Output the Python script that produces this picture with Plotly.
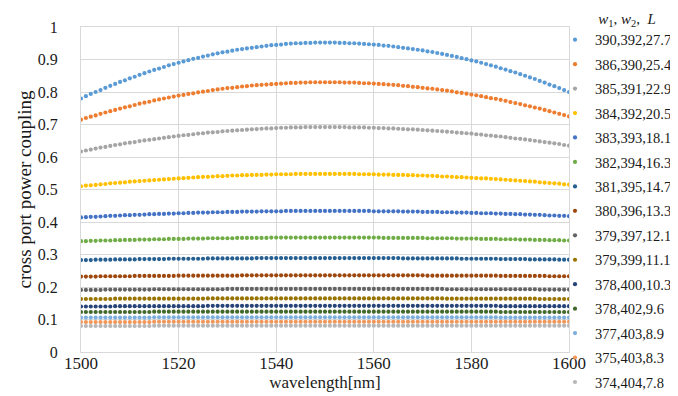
import plotly.graph_objects as go

wavelength = list(range(1500, 1601))

labels = ["390,392,27.7", "386,390,25.4", "385,391,22.9", "384,392,20.5",
          "383,393,18.1", "382,394,16.3", "381,395,14.7", "380,396,13.3",
          "379,397,12.1", "379,399,11.1", "378,400,10.3", "378,402,9.6",
          "377,403,8.9", "375,403,8.3", "374,404,7.8"]

colors = ["#5B9BD5", "#ED7D31", "#A5A5A5", "#FFC000", "#4472C4", "#70AD47",
          "#255E91", "#9E480E", "#636363", "#997300", "#264478", "#43682B",
          "#7CAFDD", "#F1975A", "#B7B7B7"]

s1 = [.780,.787,.794,.800,.806,.813,.819,.825,.831,.836,.842,.847,.853,.858,.863,.868,.872,.877,.882,.886,
      .890,.894,.898,.902,.905,.909,.912,.916,.919,.922,.924,.927,.930,.932,.934,.936,.938,.940,.942,.944,
      .945,.946,.948,.949,.950,.950,.951,.951,.952,.952,.952,
      .952,.952,.951,.951,.950,.950,.949,.948,.947,.946,.945,.943,.942,.940,.938,.936,.934,.932,.930,.928,
      .925,.923,.920,.917,.914,.911,.908,.904,.901,.897,.894,.890,.886,.882,.878,.873,.869,.864,.860,.855,
      .850,.845,.840,.834,.829,.823,.818,.812,.806,.800]
s2 = [.715,.720,.724,.728,.733,.737,.741,.745,.749,.753,.756,.760,.764,.767,.770,.774,.777,.780,.783,.786,
      .789,.791,.794,.796,.799,.801,.803,.806,.808,.810,.812,.813,.815,.817,.818,.820,.821,.822,.823,.824,
      .825,.826,.827,.828,.828,.829,.829,.830,.830,.830,.830,
      .830,.830,.830,.829,.829,.829,.828,.827,.827,.826,.825,.824,.823,.822,.821,.819,.818,.816,.815,.813,
      .811,.810,.808,.806,.804,.802,.799,.797,.795,.792,.790,.787,.784,.781,.779,.776,.773,.769,.766,.763,
      .759,.756,.752,.749,.745,.741,.737,.733,.729,.725]
s3 = [.617,.620,.623,.626,.629,.631,.634,.637,.639,.642,.644,.646,.649,.651,.653,.655,.657,.659,.661,.663,
      .665,.667,.668,.670,.672,.673,.675,.676,.677,.679,.680,.681,.682,.683,.684,.685,.686,.687,.688,.688,
      .689,.690,.690,.691,.691,.691,.692,.692,.692,.692,.692,
      .692,.692,.692,.692,.691,.691,.691,.691,.690,.690,.689,.689,.688,.688,.687,.686,.685,.685,.684,.683,
      .682,.681,.680,.679,.678,.677,.675,.674,.673,.672,.670,.669,.667,.666,.664,.663,.661,.659,.657,.656,
      .654,.652,.650,.648,.646,.644,.642,.640,.637,.635]
s4 = [.510,.512,.513,.514,.516,.517,.519,.520,.521,.522,.524,.525,.526,.527,.528,.529,.530,.531,.532,.533,
      .534,.535,.536,.537,.538,.539,.539,.540,.541,.541,.542,.543,.543,.544,.544,.545,.545,.545,.546,.546,
      .547,.547,.547,.547,.548,.548,.548,.548,.548,.548,.548,
      .548,.548,.548,.548,.548,.548,.547,.547,.547,.547,.546,.546,.546,.545,.545,.545,.544,.544,.543,.543,
      .542,.542,.541,.540,.540,.539,.538,.538,.537,.536,.535,.534,.534,.533,.532,.531,.530,.529,.528,.527,
      .526,.525,.524,.522,.521,.520,.519,.518,.516,.515]
s5 = [.414,.415,.416,.416,.417,.418,.419,.419,.420,.421,.421,.422,.422,.423,.424,.424,.425,.425,.426,.426,
      .427,.427,.428,.428,.429,.429,.429,.430,.430,.430,.431,.431,.431,.432,.432,.432,.432,.433,.433,.433,
      .433,.433,.434,.434,.434,.434,.434,.434,.434,.434,.434,
      .434,.434,.434,.434,.434,.434,.434,.434,.434,.433,.433,.433,.433,.433,.433,.432,.432,.432,.432,.431,
      .431,.431,.431,.430,.430,.430,.429,.429,.429,.428,.428,.427,.427,.427,.426,.426,.425,.425,.424,.424,
      .423,.423,.422,.422,.421,.420,.420,.419,.419,.418]
s6 = [.341,.341,.342,.342,.343,.343,.343,.344,.344,.345,.345,.345,.346,.346,.346,.347,.347,.347,.348,.348,
      .348,.348,.349,.349,.349,.349,.350,.350,.350,.350,.350,.350,.351,.351,.351,.351,.351,.351,.351,.352,
      .352,.352,.352,.352,.352,.352,.352,.352,.352,.352,.352,
      .352,.352,.352,.352,.352,.352,.352,.352,.352,.352,.352,.351,.351,.351,.351,.351,.351,.351,.351,.351,
      .350,.350,.350,.350,.350,.350,.349,.349,.349,.349,.349,.348,.348,.348,.348,.347,.347,.347,.347,.346,
      .346,.346,.345,.345,.345,.344,.344,.344,.343,.343]
s7 = [.283,.283,.283,.284,.284,.284,.284,.285,.285,.285,.285,.285,.286,.286,.286,.286,.286,.286,.287,.287,
      .287,.287,.287,.287,.287,.287,.288,.288,.288,.288,.288,.288,.288,.288,.288,.288,.289,.289,.289,.289,
      .289,.289,.289,.289,.289,.289,.289,.289,.289,.289,.289,
      .289,.289,.289,.289,.289,.289,.289,.289,.289,.289,.289,.289,.289,.289,.289,.288,.288,.288,.288,.288,
      .288,.288,.288,.288,.288,.288,.288,.287,.287,.287,.287,.287,.287,.287,.287,.286,.286,.286,.286,.286,
      .286,.285,.285,.285,.285,.285,.285,.284,.284,.284]
s8 = [.232,.232,.232,.232,.233,.233,.233,.233,.233,.233,.233,.234,.234,.234,.234,.234,.234,.234,.234,.234,
      .235,.235,.235,.235,.235,.235,.235,.235,.235,.235,.235,.235,.235,.236,.236,.236,.236,.236,.236,.236,
      .236,.236,.236,.236,.236,.236,.236,.236,.236,.236,.236,
      .236,.236,.236,.236,.236,.236,.236,.236,.236,.236,.236,.236,.236,.236,.236,.236,.236,.236,.236,.236,
      .235,.235,.235,.235,.235,.235,.235,.235,.235,.235,.235,.235,.235,.235,.235,.234,.234,.234,.234,.234,
      .234,.234,.234,.234,.234,.233,.233,.233,.233,.233]
s9 = [.191,.191,.191,.191,.191,.192,.192,.192,.192,.192,.192,.192,.192,.192,.192,.193,.193,.193,.193,.193,
      .193,.193,.193,.193,.193,.193,.193,.193,.193,.193,.194,.194,.194,.194,.194,.194,.194,.194,.194,.194,
      .194,.194,.194,.194,.194,.194,.194,.194,.194,.194,.194,
      .194,.194,.194,.194,.194,.194,.194,.194,.194,.194,.194,.194,.194,.194,.194,.194,.194,.194,.194,.194,
      .194,.194,.194,.194,.193,.193,.193,.193,.193,.193,.193,.193,.193,.193,.193,.193,.193,.193,.193,.193,
      .193,.193,.193,.192,.192,.192,.192,.192,.192,.192]
s10 = [.163,.163,.163,.163,.163,.163,.163,.164,.164,.164,.164,.164,.164,.164,.164,.164,.164,.164,.164,.164,
       .164,.164,.164,.164,.164,.164,.165,.165,.165,.165,.165,.165,.165,.165,.165,.165,.165,.165,.165,.165,
       .165,.165,.165,.165,.165,.165,.165,.165,.165,.165,.165,
       .165,.165,.165,.165,.165,.165,.165,.165,.165,.165,.165,.165,.165,.165,.165,.165,.165,.165,.165,.165,
       .165,.165,.165,.165,.164,.164,.164,.164,.164,.164,.164,.164,.164,.164,.164,.164,.164,.164,.164,.164,
       .164,.164,.164,.163,.163,.163,.163,.163,.163,.163]
s11 = [.140,.140,.140,.140,.140,.140,.140,.141,.141,.141,.141,.141,.141,.141,.141,.141,.141,.141,.141,.141,
       .141,.141,.141,.141,.141,.141,.142,.142,.142,.142,.142,.142,.142,.142,.142,.142,.142,.142,.142,.142,
       .142,.142,.142,.142,.142,.142,.142,.142,.142,.142,.142,
       .142,.142,.142,.142,.142,.142,.142,.142,.142,.142,.142,.142,.142,.142,.142,.142,.142,.142,.142,.142,
       .142,.142,.142,.142,.142,.142,.142,.142,.142,.142,.142,.142,.142,.142,.142,.141,.141,.141,.141,.141,
       .141,.141,.141,.141,.141,.141,.141,.141,.141,.141]
s12 = [.123,.123,.123,.123,.123,.123,.123,.123,.123,.123,.123,.123,.123,.123,.123,.124,.124,.124,.124,.124,
       .124,.124,.124,.124,.124,.124,.124,.124,.124,.124,.124,.124,.124,.124,.124,.124,.124,.124,.124,.124,
       .124,.124,.124,.124,.124,.124,.124,.124,.124,.124,.124,
       .124,.124,.124,.124,.124,.124,.124,.124,.124,.124,.124,.124,.124,.124,.124,.124,.124,.124,.124,.124,
       .124,.124,.124,.124,.124,.124,.124,.124,.124,.124,.124,.124,.124,.124,.124,.123,.123,.123,.123,.123,
       .123,.123,.123,.123,.123,.123,.123,.123,.123,.123]
s13 = [.106,.106,.106,.106,.106,.106,.106,.106,.106,.106,.106,.106,.106,.106,.106,.107,.107,.107,.107,.107,
       .107,.107,.107,.107,.107,.107,.107,.107,.107,.107,.107,.107,.107,.107,.107,.107,.107,.107,.107,.107,
       .107,.107,.107,.107,.107,.107,.107,.107,.107,.107,.107,
       .107,.107,.107,.107,.107,.107,.107,.107,.107,.107,.107,.107,.107,.107,.107,.107,.107,.107,.107,.107,
       .107,.107,.107,.107,.107,.107,.107,.107,.107,.107,.107,.107,.107,.107,.107,.106,.106,.106,.106,.106,
       .106,.106,.106,.106,.106,.106,.106,.106,.106,.106]
s14 = [.092,.092,.092,.092,.092,.092,.092,.092,.092,.092,.092,.092,.092,.092,.092,.093,.093,.093,.093,.093,
       .093,.093,.093,.093,.093,.093,.093,.093,.093,.093,.093,.093,.093,.093,.093,.093,.093,.093,.093,.093,
       .093,.093,.093,.093,.093,.093,.093,.093,.093,.093,.093,
       .093,.093,.093,.093,.093,.093,.093,.093,.093,.093,.093,.093,.093,.093,.093,.093,.093,.093,.093,.093,
       .093,.093,.093,.093,.093,.093,.093,.093,.093,.093,.093,.093,.093,.093,.093,.093,.093,.093,.093,.093,
       .093,.093,.093,.093,.093,.093,.093,.093,.093,.093]
s15 = [.080,.080,.080,.080,.080,.080,.080,.080,.080,.080,.080,.080,.080,.080,.080,.081,.081,.081,.081,.081,
       .081,.081,.081,.081,.081,.081,.081,.081,.081,.081,.081,.081,.081,.081,.081,.081,.081,.081,.081,.081,
       .081,.081,.081,.081,.081,.081,.081,.081,.081,.081,.081,
       .081,.081,.081,.081,.081,.081,.081,.081,.081,.081,.081,.081,.081,.081,.081,.081,.081,.081,.081,.081,
       .081,.081,.081,.081,.081,.081,.081,.081,.081,.081,.081,.081,.081,.081,.081,.081,.081,.081,.081,.081,
       .081,.081,.081,.081,.081,.081,.081,.081,.081,.081]

series = [s1, s2, s3, s4, s5, s6, s7, s8, s9, s10, s11, s12, s13, s14, s15]
for s in series:
    assert len(s) == len(wavelength), len(s)

FONT = "Times New Roman"
GRID = "#d9d9d9"
TXT = "#1a1a1a"

fig = go.Figure()
for i, (lab, col, ys) in enumerate(zip(labels, colors, series)):
    fig.add_trace(go.Scatter(
        x=wavelength, y=ys, mode="markers", name=lab, legendgroup=f"g{i}",
        marker=dict(color=col, size=4.2, line=dict(width=0)),
    ))

fig.update_layout(
    width=678, height=396,
    margin=dict(l=73, r=117, t=19, b=52, autoexpand=False),
    paper_bgcolor="white", plot_bgcolor="white",
    font=dict(family=FONT, color=TXT, size=16),
    showlegend=True,
    legend=dict(
        x=(547 - 73) / 488, xanchor="left", y=1.07, yanchor="top",
        font=dict(family=FONT, size=14.5, color=TXT),
        title=dict(text="&nbsp;" * 11 + "<i>w</i><sub>1</sub>, <i>w</i><sub>2</sub>,  <i>L</i>",
                   font=dict(family=FONT, size=15, color=TXT)),
        tracegroupgap=2.6, itemwidth=30, bgcolor="rgba(0,0,0,0)",
        maxheight=1.0,
    ),
    xaxis=dict(
        range=[1500, 1600], tick0=1500, dtick=20, showgrid=True, gridcolor=GRID,
        gridwidth=1, zeroline=False, showline=True, linecolor=GRID, mirror=True,
        ticks="", tickfont=dict(family=FONT, size=17, color=TXT), ticklabelstandoff=-4,
        title=dict(text="wavelength[nm]", font=dict(family=FONT, size=17, color=TXT), standoff=1),
    ),
    yaxis=dict(
        range=[0, 1], tick0=0, dtick=0.1, showgrid=True, gridcolor=GRID,
        gridwidth=1, zeroline=False, showline=True, linecolor=GRID, mirror=True,
        ticks="", tickfont=dict(family=FONT, size=16, color=TXT), ticklabelstandoff=19,
        title=dict(text="cross port power coupling", font=dict(family=FONT, size=19, color=TXT), standoff=1),
    ),
)

fig.write_html("out.html")
